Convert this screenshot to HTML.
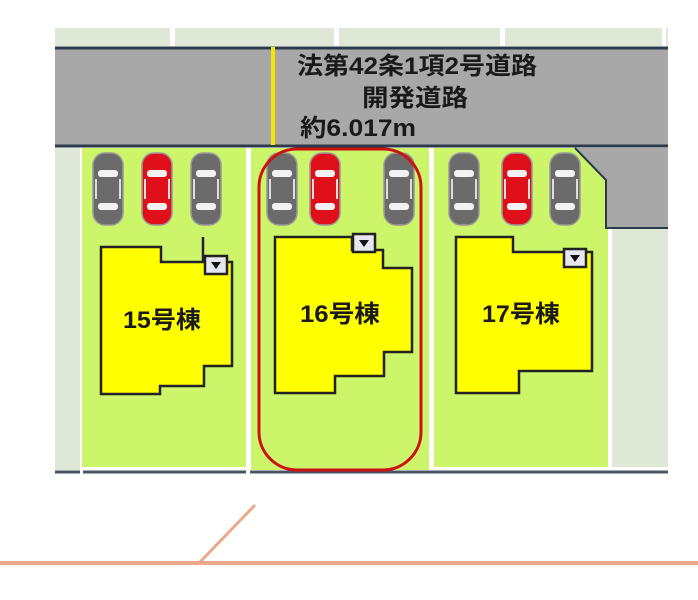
<!DOCTYPE html>
<html><head><meta charset="utf-8"><style>
html,body{margin:0;padding:0;background:#fff;width:698px;height:600px;overflow:hidden}
svg{display:block}
text{font-family:"Liberation Sans","Noto Sans CJK JP",sans-serif;font-weight:bold;fill:#1a1a1a}
</style></head><body>
<svg width="698" height="600" viewBox="0 0 698 600" xmlns="http://www.w3.org/2000/svg">
<defs>
<g id="car">
<rect x="0" y="0" width="30" height="72" rx="12" fill="currentColor" stroke="#999" stroke-width="1.5"/>
<rect x="5" y="17" width="20" height="7" rx="3" fill="#f2f2f2"/>
<rect x="5" y="50" width="20" height="7" rx="3" fill="#f2f2f2"/>
<rect x="2" y="26" width="2" height="20" fill="#ddd"/>
<rect x="26" y="26" width="2" height="20" fill="#ddd"/>
</g>
<g id="box"><rect x="0" y="0" width="22" height="18" fill="#e6e6f0" stroke="#222" stroke-width="2.5"/><path d="M6,6 L16,6 L11,13 Z" fill="#111"/></g>
</defs>
<rect x="55" y="28" width="613" height="18" fill="#dfe8d6"/>
<rect x="170" y="28" width="5" height="18" fill="#fff"/>
<rect x="334" y="28" width="5" height="18" fill="#fff"/>
<rect x="500" y="28" width="5" height="18" fill="#fff"/>
<rect x="662" y="28" width="4" height="18" fill="#fff"/>
<rect x="55" y="47" width="613" height="100" fill="#a8a8a8"/>
<line x1="55" y1="48" x2="668" y2="48" stroke="#2b3a4a" stroke-width="3"/>
<line x1="55" y1="146" x2="668" y2="146" stroke="#2b3a4a" stroke-width="3"/>
<rect x="271" y="47" width="4" height="98" fill="#f5e600"/>
<text x="297" y="74" font-size="24" textLength="240" lengthAdjust="spacingAndGlyphs">法第42条1項2号道路</text>
<text x="362" y="106" font-size="24" textLength="106" lengthAdjust="spacingAndGlyphs">開発道路</text>
<text x="300" y="136" font-size="24" textLength="116" lengthAdjust="spacingAndGlyphs">約6.017m</text>
<rect x="55" y="148" width="25" height="322" fill="#dfe8d6"/>
<rect x="82" y="148" width="164" height="319" fill="#ccf56a"/>
<rect x="251" y="148" width="178" height="322" fill="#ccf56a"/>
<rect x="434" y="148" width="174" height="319" fill="#ccf56a"/>
<rect x="612" y="228" width="56" height="239" fill="#dfe8d6"/>
<path d="M575,148 L668,148 L668,228 L606,228 L606,180 Z" fill="#a8a8a8"/>
<path d="M575,148 L606,180 L606,228 L668,228" fill="none" stroke="#2b3a4a" stroke-width="2"/>
<line x1="55" y1="472" x2="668" y2="472" stroke="#4a5563" stroke-width="3"/>
<rect x="80" y="468" width="3" height="6" fill="#fff"/>
<rect x="246" y="468" width="4" height="6" fill="#fff"/>
<use href="#car" x="93" y="153" color="#6b6b6b"/>
<use href="#car" x="142" y="153" color="#e0101a"/>
<use href="#car" x="191" y="153" color="#6b6b6b"/>
<use href="#car" x="267" y="153" color="#6b6b6b"/>
<use href="#car" x="310" y="153" color="#e0101a"/>
<use href="#car" x="384" y="153" color="#6b6b6b"/>
<use href="#car" x="449" y="153" color="#6b6b6b"/>
<use href="#car" x="502" y="153" color="#e0101a"/>
<use href="#car" x="550" y="153" color="#6b6b6b"/>
<path d="M101,247 L161,247 L161,262 L232,262 L232,366 L204,366 L204,386 L160,386 L160,394 L101,394 Z" fill="#ffff00" stroke="#222" stroke-width="2.5"/>
<line x1="203" y1="237" x2="203" y2="262" stroke="#222" stroke-width="2.5"/>
<use href="#box" x="205" y="256"/>
<text x="123" y="328" font-size="24" textLength="78" lengthAdjust="spacingAndGlyphs">15号棟</text>
<path d="M275,237 L352,237 L352,250 L383,250 L383,268 L412,268 L412,352 L384,352 L384,376 L335,376 L335,393 L275,393 Z" fill="#ffff00" stroke="#222" stroke-width="2.5"/>
<use href="#box" x="353" y="234"/>
<text x="300" y="322" font-size="24" textLength="80" lengthAdjust="spacingAndGlyphs">16号棟</text>
<path d="M456,237 L513,237 L513,252 L592,252 L592,371 L519,371 L519,393 L456,393 Z" fill="#ffff00" stroke="#222" stroke-width="2.5"/>
<use href="#box" x="564" y="249"/>
<text x="482" y="322" font-size="24" textLength="78" lengthAdjust="spacingAndGlyphs">17号棟</text>
<rect x="259" y="149" width="162" height="321" rx="38" fill="none" stroke="#cc1111" stroke-width="3"/>
<line x1="0" y1="563" x2="698" y2="563" stroke="#eaa98a" stroke-width="4"/>
<line x1="200" y1="562" x2="255" y2="505" stroke="#eaa98a" stroke-width="3"/>
</svg>
</body></html>
